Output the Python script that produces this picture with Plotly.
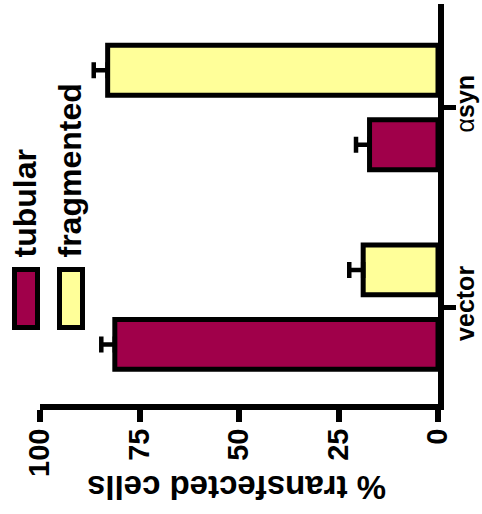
import plotly.graph_objects as go

# Data
categories = ["vector", "αsyn"]
series_names = ["tubular", "fragmented"]
tubular = [81.2, 17.2]
fragmented = [18.8, 83.0]
tubular_err = [3.4, 3.4]
fragmented_err = [3.5, 3.5]
value_ticks = [0, 25, 50, 75, 100]
category_ticktext = ["vector", "<span style='font-weight:normal'>α</span>syn"]
axis_title = "% transfected cells"

colors = ["#A0004A", "#FFFF99"]
FONT = "Liberation Sans, Arial, sans-serif"

W, H = 482, 514
L, R, T, B = 40, 44, 4, 110
PW, PH = W - L - R, H - T - B


def paper_x(px):
    return (px - L) / PW


def paper_y(py):
    return (H - B - py) / PH


fig = go.Figure()
for name, vals, errs, col in zip(series_names, [tubular, fragmented],
                                 [tubular_err, fragmented_err], colors):
    fig.add_trace(go.Bar(
        y=categories, x=vals, orientation="h", name=name,
        marker=dict(color=col, line=dict(color="black", width=5)),
        error_x=dict(type="data", symmetric=False, array=errs,
                     arrayminus=[0] * len(errs), color="black",
                     thickness=4.5, width=8),
        showlegend=False,
    ))

fig.update_layout(
    width=W, height=H,
    margin=dict(l=L, r=R, t=T, b=B, autoexpand=False),
    paper_bgcolor="white", plot_bgcolor="white",
    barmode="group", bargap=0.254, bargroupgap=0.33,
    font=dict(family=FONT, color="black"),
)

fig.update_xaxes(
    range=[100, 0], tickvals=value_ticks, ticktext=[str(v) for v in value_ticks],
    tickangle=-90, tickfont=dict(size=29, weight="bold", family=FONT),
    showline=True, linewidth=6, linecolor="black",
    ticks="outside", ticklen=12, tickwidth=6, tickcolor="black",
    showgrid=False, zeroline=False, automargin=False,
    ticklabelstandoff=-5,
)
fig.update_yaxes(
    range=[-0.485, 1.518], side="right",
    tickvals=categories, ticktext=category_ticktext,
    tickangle=-90, tickfont=dict(size=25, weight="bold", family=FONT),
    showline=True, linewidth=6, linecolor="black",
    ticks="outside", ticklen=12, tickwidth=5, tickcolor="black",
    showgrid=False, zeroline=False, automargin=False,
    ticklabelstandoff=-12,
)

# Axis title, drawn upside down
fig.add_annotation(
    text=axis_title, textangle=180, showarrow=False,
    xref="paper", yref="paper", x=paper_x(237), y=paper_y(488),
    xanchor="center", yanchor="middle",
    font=dict(size=33, weight="bold", family=FONT),
)

# Rotated legend: swatch + label per series
legend_x = [26, 71]
for name, col, cx in zip(series_names, colors, legend_x):
    fig.add_shape(
        type="rect", xref="paper", yref="paper",
        x0=paper_x(cx - 11.5), x1=paper_x(cx + 11.5),
        y0=paper_y(327.5), y1=paper_y(269.5),
        fillcolor=col, line=dict(color="black", width=5),
    )
    fig.add_annotation(
        text=name, textangle=-90, showarrow=False,
        xref="paper", yref="paper", x=paper_x(cx - 1.5), y=paper_y(260),
        xanchor="center", yanchor="bottom",
        font=dict(size=32, weight="bold", family=FONT),
    )

fig.write_html("out.html")
